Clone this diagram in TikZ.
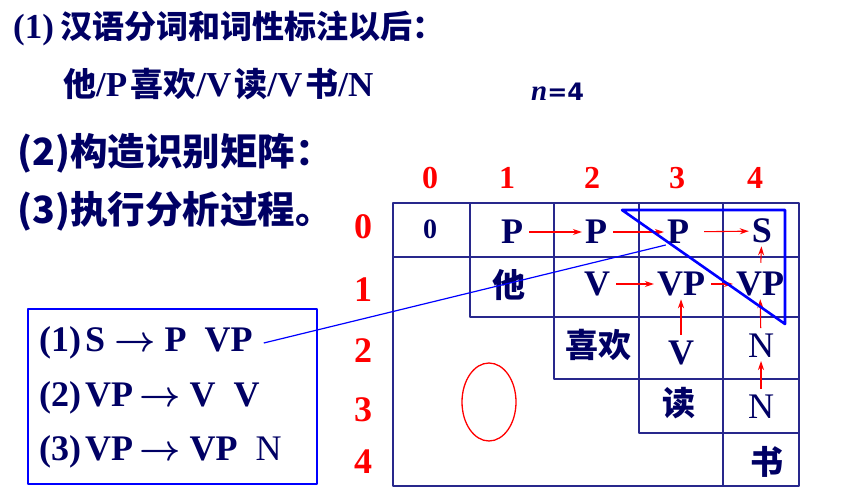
\RequirePackage{fix-cm}
\documentclass[tikz,border=0pt]{standalone}
\usepackage{fontspec}
\setmainfont{Liberation Serif}
\setsansfont{DejaVu Sans}
\newfontfamily\cjk{Noto Sans CJK SC}
\usetikzlibrary{arrows.meta, positioning, calc}
\definecolor{navy}{RGB}{0,0,100}
\definecolor{gridc}{RGB}{40,40,140}
\newcommand\hz[1]{{\cjk\bfseries #1}}
\newcommand\ra{{\boldmath$\rightarrow$}}

\begin{document}
\begin{tikzpicture}[x=1pt, y=-1pt, >={Stealth[length=9pt, width=6pt]}, line join=round,
    cell/.style={text=navy, font=\bfseries\fontsize{36}{38}\selectfont, inner sep=1pt},
    hanzi/.style={text=navy, font=\cjk\bfseries\fontsize{33}{36}\selectfont, inner sep=1pt},
    idx/.style={text=red, font=\bfseries\fontsize{32}{34}\selectfont},
    rowidx/.style={text=red, font=\bfseries\fontsize{36}{38}\selectfont},
    redarrow/.style={->, red, line width=1.1pt, shorten <=5pt, shorten >=2pt},
    gridline/.style={gridc, line width=1.2pt},
    rule/.style={text=navy, font=\bfseries\fontsize{36}{38}\selectfont, anchor=west, inner xsep=11pt, inner ysep=2pt}]
    \useasboundingbox (0,0) rectangle (865,499);

    % 标题
    \node[anchor=west, text=navy, inner sep=0pt] (t1) at (13,28)
        {\bfseries\fontsize{35}{38}\selectfont (1)\hspace{6pt}\hz{\fontsize{32}{36}\selectfont 汉语分词和词性标注以后：}};
    \node[anchor=west, text=navy, inner sep=0pt] (t2) at (63,84)
        {\bfseries\fontsize{35}{38}\selectfont \hz{\fontsize{33}{36}\selectfont 他}/P\hspace{3pt}\hz{\fontsize{33}{36}\selectfont 喜欢}/V\hspace{3pt}\hz{\fontsize{33}{36}\selectfont 读}/V\hspace{3pt}\hz{\fontsize{33}{36}\selectfont 书}/N};
    \node[anchor=west, text=navy, inner sep=0pt] (n) at (531,92)
        {\fontsize{29}{30}\selectfont\bfseries\itshape n\upshape\sffamily\fontsize{24}{26}\selectfont =4};
    \node[anchor=west, text=navy, inner sep=0pt] (t3) at (17,153)
        {\cjk\bfseries\fontsize{37.5}{40}\selectfont (2)构造识别矩阵：};
    \node[anchor=west, text=navy, inner sep=0pt] (t4) at (17,211)
        {\cjk\bfseries\fontsize{37.5}{40}\selectfont (3)执行分析过程。};

    % 识别矩阵
    \draw[gridline] (393,203) rectangle (799,486);
    \draw[gridline] (393,257) -- (799,257);
    \draw[gridline] (470,203) -- (470,317) -- (799,317);
    \draw[gridline] (554,203) -- (554,379) -- (799,379);
    \draw[gridline] (639,203) -- (639,433) -- (799,433);
    \draw[gridline] (723,203) -- (723,486);

    % 下标
    \node[idx] (c0) at (430,178) {0};
    \node[idx] (c1) at (507,178) {1};
    \node[idx] (c2) at (592,178) {2};
    \node[idx] (c3) at (677,178) {3};
    \node[idx] (c4) at (755,178) {4};
    \node[rowidx] (r0) at (363,227) {0};
    \node[rowidx] (r1) at (363,290) {1};
    \node[rowidx] (r2) at (363,351) {2};
    \node[rowidx] (r3) at (363,410) {3};
    \node[rowidx] (r4) at (363,462) {4};

    % 矩阵元素
    \node[cell, font=\bfseries\fontsize{28}{30}\selectfont] (m00) at (430,229) {0};
    \node[cell] (m01) at (512,232) {P};
    \node[cell] (m02) at (596,232) {P};
    \node[cell] (m03) at (678,232) {P};
    \node[cell] (m04) at (762,231) {S};
    \node[hanzi] (m11) at (509,285) {他};
    \node[cell] (m12) at (597,284) {V};
    \node[cell] (m13) at (681,284) {VP};
    \node[cell] (m14) at (760,284) {VP};
    \node[hanzi] (m22) at (598,345) {喜欢};
    \node[cell] (m23) at (681,353) {V};
    \node[cell, font=\fontsize{36}{38}\selectfont] (m24) at (761,346) {N};
    \node[hanzi] (m33) at (679,403) {读};
    \node[cell, font=\fontsize{36}{38}\selectfont] (m34) at (761,407) {N};
    \node[hanzi] (m44) at (767,462) {书};

    % 红色箭头
    \draw[redarrow] (m01) -- (m02);
    \draw[redarrow] (m02) -- (m03);
    \draw[redarrow, shorten <=14pt] (m03) -- (m04);
    \draw[redarrow] (m12) -- (m13);
    \draw[redarrow] (m13) -- (m14);
    \draw[redarrow, shorten <=8pt] (m14) -- (m04);
    \draw[redarrow] (m24) -- (m14);
    \draw[redarrow] (m34) -- (m24);
    \draw[redarrow] (m23.north -| m13) -- (m13);

    \draw[red, line width=1.3pt] (489,402) ellipse [x radius=27, y radius=39];

    % 规则
    \draw[blue, line width=1.1pt] (28,309) rectangle (317,484);
    \node[rule] (g1) at (28,343) {(1)\hspace{4pt}S \ra{} P\ \ VP};
    \node[rule] (g2) at (28,398) {(2)\hspace{4pt}VP\,\ra{} V\ \ V};
    \node[rule] (g3) at (28,452) {(3)\hspace{4pt}VP\,\ra{} VP\ \ \mdseries N};

    \draw[blue, line width=1.2pt] (g1.east) -- (m03.south west);
    \draw[blue, line width=2.6pt] (622,210) -- (785,210) -- (785,324) -- cycle;
\end{tikzpicture}
\end{document}
